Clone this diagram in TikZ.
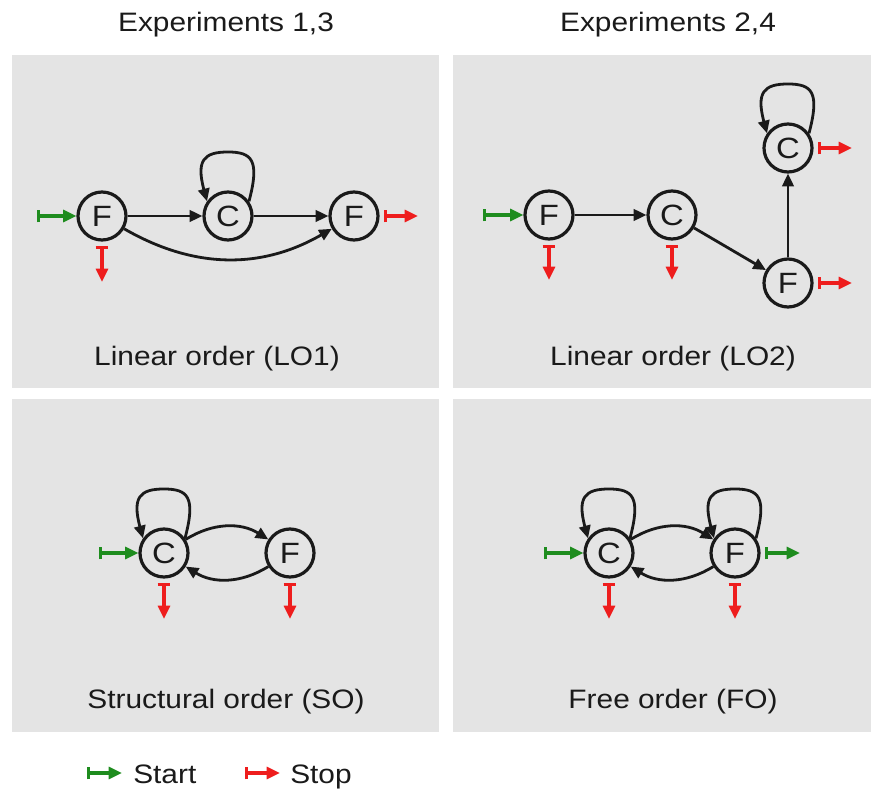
\documentclass[tikz,border=0pt]{standalone}
\usepackage{fontspec}
\setmainfont{Liberation Sans}[FakeStretch=1.12]
\usetikzlibrary{arrows.meta}
\definecolor{panel}{HTML}{E4E4E4}
\definecolor{ink}{HTML}{1A1A1A}
\definecolor{startgreen}{HTML}{1E8C1E}
\definecolor{stopred}{HTML}{EE1D1D}
\begin{document}
\begin{tikzpicture}[x=0.75pt,y=-0.75pt,
  state/.style={circle,draw=ink,line width=2.4pt,minimum size=36pt,inner sep=0pt,
    font=\fontsize{22}{26}\selectfont,text=ink},
  arr/.style={draw=ink,line width=2.1pt,-{Triangle[length=9.5pt,width=8.5pt]}},
  startarr/.style={draw=startgreen,line width=2.3pt,{Bar[width=9.5pt]}-{Triangle[length=10pt,width=9pt]}},
  stoparr/.style={draw=stopred,line width=2.3pt,{Bar[width=9.5pt]}-{Triangle[length=10pt,width=9pt]},shorten <=3pt},
  caption/.style={font=\fontsize{20}{24}\selectfont,text=ink,anchor=base,inner sep=0pt}
]
\useasboundingbox (0,0) rectangle (871,791);

% a self loop rising above a state and coming back into it
\newcommand{\selfloop}[1]{%
  \draw[arr] (#1.35) .. controls +(75:32pt) and +(0:18pt) .. ([yshift=48pt]#1.center)
    .. controls +(180:18pt) and +(105:32pt) .. (#1.145);}

% panels
\fill[panel] (12,55) rectangle (439,388);
\fill[panel] (453,55) rectangle (871,388);
\fill[panel] (12,399) rectangle (439,732);
\fill[panel] (453,399) rectangle (871,732);

% column titles
\node[caption] (t1) at (226,32) {Experiments 1,3};
\node[caption] (t2) at (668,32) {Experiments 2,4};

% ---- Linear order (LO1)
\node[state] (lF1) at (102,216) {F};
\node[state] (lC)  at (228,216) {C};
\node[state] (lF2) at (354,216) {F};
\coordinate (lin) at (37,216);
\coordinate (lout) at (418,216);
\coordinate (lstop) at (102,282);
\draw[startarr] (lin) -- (lF1);
\draw[stoparr] (lF2) -- (lout);
\draw[stoparr] (lF1) -- (lstop);
\draw[arr] (lF1) -- (lC);
\draw[arr] (lC) -- (lF2);
\draw[arr] (lF1) to[bend right=30] (lF2);
\selfloop{lC}
\node[caption] (c1) at (217,366) {Linear order (LO1)};

% ---- Linear order (LO2)
\node[state] (mF1) at (549,215) {F};
\node[state] (mC1) at (672,215) {C};
\node[state] (mF2) at (788,283) {F};
\node[state] (mC2) at (788,148) {C};
\coordinate (min) at (483,215);
\coordinate (mstopA) at (549,280);
\coordinate (mstopB) at (672,280);
\coordinate (moutC) at (852,148);
\coordinate (moutF) at (852,283);
\draw[startarr] (min) -- (mF1);
\draw[stoparr] (mF1) -- (mstopA);
\draw[stoparr] (mC1) -- (mstopB);
\draw[stoparr] (mC2) -- (moutC);
\draw[stoparr] (mF2) -- (moutF);
\draw[arr] (mF1) -- (mC1);
\draw[arr] (mC1) -- (mF2);
\draw[arr] (mF2) -- (mC2);
\selfloop{mC2}
\node[caption] (c2) at (673,366) {Linear order (LO2)};

% ---- Structural order (SO)
\node[state] (sC) at (164,553) {C};
\node[state] (sF) at (290,553) {F};
\coordinate (sin) at (99,553);
\coordinate (sstopC) at (164,619);
\coordinate (sstopF) at (290,619);
\draw[startarr] (sin) -- (sC);
\draw[stoparr] (sC) -- (sstopC);
\draw[stoparr] (sF) -- (sstopF);
\draw[arr] (sC) to[bend left=32] (sF);
\draw[arr] (sF) to[bend left=32] (sC);
\selfloop{sC}
\node[caption] (c3) at (226,708) {Structural order (SO)};

% ---- Free order (FO)
\node[state] (fC) at (609,553) {C};
\node[state] (fF) at (735,553) {F};
\coordinate (fin) at (544,553);
\coordinate (fout) at (800,553);
\coordinate (fstopC) at (609,619);
\coordinate (fstopF) at (735,619);
\draw[startarr] (fin) -- (fC);
\draw[startarr,shorten <=3pt] (fF) -- (fout);
\draw[stoparr] (fC) -- (fstopC);
\draw[stoparr] (fF) -- (fstopF);
\draw[arr] (fC) to[bend left=32] (fF);
\draw[arr] (fF) to[bend left=32] (fC);
\selfloop{fC}
\selfloop{fF}
\node[caption] (c4) at (673,708) {Free order (FO)};

% ---- legend
\coordinate (kgA) at (87,773);
\coordinate (kgB) at (122,773);
\coordinate (krA) at (245,773);
\coordinate (krB) at (280,773);
\draw[startarr] (kgA) -- (kgB);
\node[caption,anchor=base west] (kstart) at (133,783) {Start};
\draw[stoparr,shorten <=0pt] (krA) -- (krB);
\node[caption,anchor=base west] (kstop) at (290,783) {Stop};
\end{tikzpicture}
\end{document}
